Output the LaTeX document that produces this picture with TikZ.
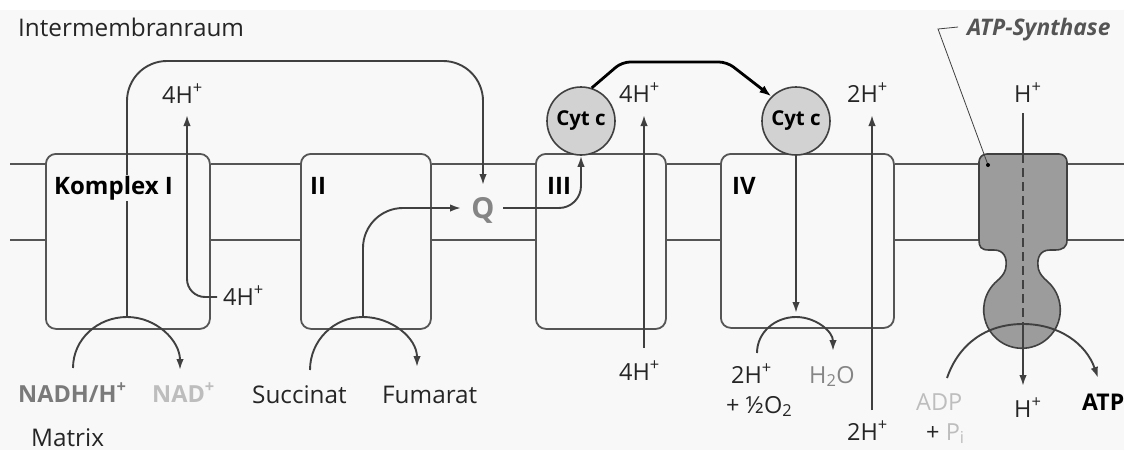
\documentclass[tikz,border=0pt]{standalone}
\usepackage{fontspec}
\setmainfont{Open Sans}
\usetikzlibrary{arrows.meta}
\definecolor{ln}{HTML}{404040}
\definecolor{bx}{HTML}{555555}
\definecolor{bg}{HTML}{F8F8F8}
\definecolor{cyt}{HTML}{D2D2D2}
\definecolor{atpc}{HTML}{9C9C9C}
\definecolor{qgray}{HTML}{858585}
\definecolor{nadh}{HTML}{7A7A7A}
\definecolor{lightg}{HTML}{BDBDBD}
\definecolor{txt}{HTML}{252525}
\newcommand\hp{H\textsuperscript{+}}
\begin{document}
\begin{tikzpicture}[x=1pt,y=1pt,
  lab/.style={font=\fontsize{23.5}{23.5}\selectfont, text=txt, inner sep=0pt, anchor=base west},
  big/.style={font=\fontsize{24.3}{24.3}\selectfont, text=txt, inner sep=0pt, anchor=base west},
  cplx/.style={font=\bfseries\fontsize{24}{24}\selectfont, inner sep=0pt, anchor=base west},
  boxc/.style={draw=bx, line width=1.8pt, rounded corners=10pt, anchor=north west, inner sep=0pt},
  membrane/.style={draw=bx, line width=2.2pt},
  conn/.style={draw=ln, line width=1.9pt},
  arr/.style={conn, -{Latex[length=11pt,width=7.5pt]}},
  cytc/.style={circle, draw=ln, line width=1.6pt, fill=cyt, minimum size=68pt, inner sep=0pt, font=\bfseries\fontsize{20.5}{20.5}\selectfont},
]
\fill[white] (0,0) rectangle (1124,-450);
\fill[bg] (0,-10) rectangle (1124,-450);
\useasboundingbox (0,0) rectangle (1124,-450);

% complexes
\node[boxc, minimum width=164pt, minimum height=175pt] (k1) at (45,-153) {};
\node[boxc, minimum width=130pt, minimum height=175pt] (k2) at (300,-153) {};
\node[boxc, minimum width=130pt, minimum height=175pt] (k3) at (535,-153) {};
\node[boxc, minimum width=173pt, minimum height=174pt] (k4) at (720,-153) {};

% membrane
\coordinate (mt) at (10,-164);
\coordinate (mb) at (10,-240);
\coordinate (mtr) at (1124,-164);
\coordinate (mbr) at (1124,-240);
\coordinate (aL) at (979,0);
\coordinate (aR) at (1067,0);
\foreach \m/\r in {mt/mtr, mb/mbr}{
  \draw[membrane] (\m) -- (k1.west |- \m) (k1.east |- \m) -- (k2.west |- \m)
    (k2.east |- \m) -- (k3.west |- \m) (k3.east |- \m) -- (k4.west |- \m)
    (k4.east |- \m) -- (aL |- \m) (aR |- \m) -- (\r);
}

% ATP synthase
\draw[draw=ln, line width=1.6pt, fill=atpc]
  (987,-154) -- (1059,-154) .. controls (1063.5,-154) and (1067,-157.5) .. (1067,-162)
  -- (1067,-240) .. controls (1067,-247) and (1063,-250) .. (1055,-250)
  -- (1050,-250) .. controls (1040,-250) and (1037,-258) .. (1038,-266)
  .. controls (1038,-270) and (1040,-275) .. (1047,-281)
  arc[start angle=49.2, end angle=-229.2, radius=38.3]
  .. controls (1004,-275) and (1006,-270) .. (1006,-266)
  .. controls (1007,-258) and (1004,-250) .. (994,-250)
  -- (989,-250) .. controls (981,-250) and (979,-247) .. (979,-240)
  -- (979,-162) .. controls (979,-157.5) and (982.5,-154) .. (987,-154) -- cycle;

% Cyt c
\node[cytc] (c1) at (581,-121) {Cyt c};
\node[cytc] (c2) at (796,-121) {Cyt c};

% Q
\node[font=\bfseries\fontsize{29}{29}\selectfont, text=qgray, inner sep=0pt, anchor=base] (Q) at (483,-218) {Q};

% coordinates
\coordinate (nadhS) at (73,-368);
\coordinate (k1top) at (127,-317);
\coordinate (nadE) at (180,-370);
\coordinate (loop1) at (127,-61);
\coordinate (loop2) at (483,-61);
\coordinate (qtop) at (483,-185);
\coordinate (h1s) at (217,-297);
\coordinate (h1c) at (187,-297);
\coordinate (h1e) at (187,-115);
\coordinate (sucS) at (310,-370);
\coordinate (k2top) at (363,-317);
\coordinate (fumE) at (417,-367);
\coordinate (sucC) at (363,-208);
\coordinate (qin) at (461,-208);
\coordinate (qout) at (503,-208);
\coordinate (qc) at (581,-208);
\coordinate (cc1) at (622,-62);
\coordinate (cc2) at (727,-62);
\coordinate (h3s) at (644,-348);
\coordinate (h3e) at (644,-115);
\coordinate (k4top) at (796,-317);
\coordinate (k4in) at (796,-313);
\coordinate (oS) at (757,-353);
\coordinate (wE) at (833,-351);
\coordinate (h4s) at (872,-410);
\coordinate (h4e) at (872,-115);
\coordinate (hA1) at (1023,-113);
\coordinate (hA2) at (1023,-154);
\coordinate (hA3) at (1023,-323);
\coordinate (hA4) at (1023,-386);
\coordinate (adpS) at (947,-378);
\coordinate (aTop) at (1023,-324);
\coordinate (atpE) at (1098,-378);

% connectors
\draw[arr] (nadhS) to[out=90,in=180] (k1top) to[out=0,in=90] (nadE);
\draw[arr, rounded corners=40pt] (k1top) -- (loop1) -- (loop2) -- (qtop);
\draw[arr, rounded corners=18pt] (h1s) -- (h1c) -- (h1e);
\draw[arr] (sucS) to[out=90,in=180] (k2top) to[out=0,in=90] (fumE);
\draw[arr, rounded corners=40pt] (k2top) -- (sucC) -- (qin);
\draw[arr, rounded corners=22pt] (qout) -- (qc) -- (c1.south);
\draw[black, line width=2.8pt, -{Latex[length=12pt,width=8.5pt]}, rounded corners=8pt] (c1.72) -- (cc1) -- (cc2) -- (c2.135);
\draw[arr] (h3s) -- (h3e);
\draw[arr] (c2.south) -- (k4in);
\draw[arr] (oS) to[out=90,in=180] (k4top) to[out=0,in=90] (wE);
\draw[arr] (h4s) -- (h4e);
\draw[conn] (hA1) -- (hA2);
\draw[conn, dash pattern=on 9pt off 5pt] (hA2) -- (hA3);
\draw[arr] (hA3) -- (hA4);
\draw[arr] (adpS) to[out=71,in=180] (aTop) to[out=0,in=109] (atpE);

% labels of complexes
\node[cplx, fill=bg, inner sep=1pt] (lk1) at (53,-194) {Komplex I};
\node[cplx] (lk2) at (310,-194) {II};
\node[cplx] (lk3) at (547,-194) {III};
\node[cplx] (lk4) at (732,-194) {IV};

% texts
\node[big] (imr) at (18,-36) {Intermembranraum};
\node[big] (mat) at (31,-446) {Matrix};
\node[lab] (t1) at (162,-103) {4\hp};
\node[lab] (t2) at (223,-305) {4\hp};
\node[font=\bfseries\fontsize{23.5}{23.5}\selectfont, text=nadh, inner sep=0pt, anchor=base west] (nadh) at (18,-402) {NADH/\hp};
\node[font=\bfseries\fontsize{23.5}{23.5}\selectfont, text=lightg, inner sep=0pt, anchor=base west] (nad) at (152,-402) {NAD\textsuperscript{+}};
\node[big] (suc) at (252,-403) {Succinat};
\node[big] (fum) at (382,-403) {Fumarat};
\node[lab] (t3) at (619,-102) {4\hp};
\node[lab] (t4) at (619,-380) {4\hp};
\node[lab] (t5) at (847,-102) {2\hp};
\node[lab] (t6) at (847,-440) {2\hp};
\node[lab] (t7) at (731,-383) {2\hp};
\node[lab] (t8) at (726,-413) {+ ½O\textsubscript{2}};
\node[lab, text=qgray] (h2o) at (809,-383) {H\textsubscript{2}O};
\node[lab] (t9) at (1014,-102) {\hp};
\node[lab] (t10) at (1014,-417) {\hp};
\node[lab, text=lightg] (adp) at (916,-410) {ADP};
\node[lab] (pi) at (926,-440) {+ \textcolor{lightg}{P\textsubscript{i}}};
\node[font=\bfseries\fontsize{23}{23}\selectfont, inner sep=0pt, anchor=base west] (atp) at (1082,-410) {ATP};
\node[font=\bfseries\itshape\fontsize{22.8}{22.8}\selectfont, text=bx, inner sep=0pt, anchor=base west] (syn) at (967,-35) {ATP-Synthase};
\coordinate (ld1) at (958,-27);
\coordinate (ld2) at (938,-29);
\coordinate (ld3) at (988,-165);
\draw[ln, line width=0.8pt] (ld1) -- (ld2) -- (ld3);
\fill[black] (ld3) circle (2pt);
\end{tikzpicture}
\end{document}
